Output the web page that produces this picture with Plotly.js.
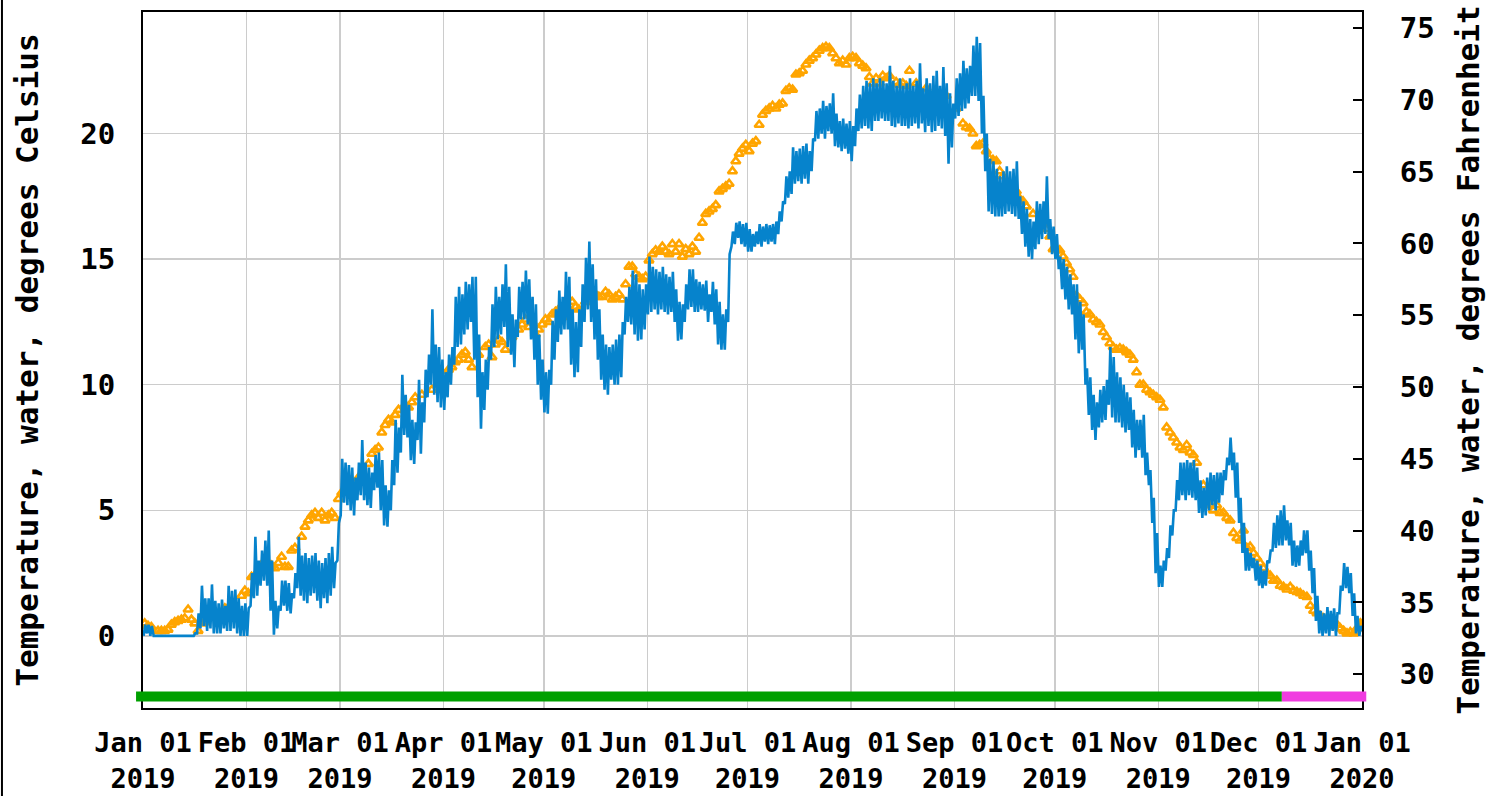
<!DOCTYPE html>
<html><head><meta charset="utf-8">
<script src="https://cdn.plot.ly/plotly-3.0.1.min.js"></script>
<style>html,body{margin:0;padding:0;background:#fff;overflow:hidden;} #chart{width:1491px;height:796px;}</style>
</head><body><div id="chart"></div>
<script>
// ---- data ----
const yearStart = '2019-01-01';
const yearEnd = '2020-01-01';

// water temperature, daily low / high (degrees Celsius), day offset from Jan 01 2019
const blueDay = [0,1,2,3,6,9,12,15,16,17,18,19,20,21,22,23,24,25,26,27,28,29,30,31,
 32,33,34,35,36,37,38,39,40,41,42,43,44,45,46,47,48,49,50,51,52,53,54,55,56,57,58,
 59,60,61,62,63,64,65,66,67,68,69,70,71,72,73,74,75,76,77,78,79,80,81,82,83,84,85,86,87,88,89,
 90,91,92,93,94,95,96,97,98,99,100,101,102,103,104,105,106,107,108,109,110,111,112,113,114,115,116,117,118,119,
 120,121,122,123,124,125,126,127,128,129,130,131,132,133,134,135,136,137,138,139,140,141,142,143,144,145,146,147,148,149,150,
 151,152,153,154,155,156,157,158,159,160,161,162,163,164,165,166,167,168,169,170,171,172,173,174,175,176,177,178,179,180,
 181,182,183,184,185,186,187,188,189,190,191,192,193,194,195,196,197,198,199,200,201,202,203,204,205,206,207,208,209,210,211,
 212,213,214,215,216,217,218,219,220,221,222,223,224,225,226,227,228,229,230,231,232,233,234,235,236,237,238,239,240,241,242,
 243,244,245,246,247,248,249,250,251,252,253,254,255,256,257,258,259,260,261,262,263,264,265,266,267,268,269,270,271,272,
 273,274,275,276,277,278,279,280,281,282,283,284,285,286,287,288,289,290,291,292,293,294,295,296,297,298,299,300,301,302,303,
 304,305,306,307,308,309,310,311,312,313,314,315,316,317,318,319,320,321,322,323,324,325,326,327,328,329,330,331,332,333,334,335,336,
 337,338,339,340,341,342,343,344,345,346,347,348,349,350,351,352,353,354,355,356,357,358,359,360,361,362,363,364,365];
const blueLow = [0.0,0.1,0.0,0,0,0,0,0,0.1,0.3,0.4,0.2,0.3,0.1,0.1,0.1,0.3,0.2,0.2,0.3,0.1,0.0,0.0,0.0,
 1.2,1.5,1.6,2.0,2.2,2.0,1.0,0.05,0.3,1.0,1.2,1.0,0.9,1.5,1.9,1.6,1.4,1.3,1.6,1.7,1.4,1.1,1.5,1.3,1.6,1.9,3.0,
 4.8,5.3,5.2,5.0,4.8,5.4,5.6,5.4,5.2,5.1,5.8,5.9,5.0,4.4,4.35,5.0,6.0,6.5,7.3,8.0,7.9,7.0,6.85,7.8,7.25,8.5,9.5,10.0,9.6,9.3,9.1,
 9.0,9.5,10.0,10.8,11.5,11.6,12.0,12.2,12.5,11.0,9.5,8.25,9.0,9.8,11.0,11.5,11.8,12.0,12.3,11.5,11.2,10.7,11.9,12.6,12.6,12.4,11.8,11.0,10.0,9.4,
 8.9,8.85,10.0,11.0,11.7,12.0,12.2,12.2,10.8,10.3,10.5,11.5,12.5,13.0,12.5,11.8,11.0,10.2,9.8,9.6,10.2,10.0,10.0,10.3,12.0,12.5,12.4,12.0,11.75,11.8,12.2,
 12.8,12.9,13.0,12.8,13.0,12.9,12.8,12.9,12.5,11.75,11.8,12.5,13.0,13.1,12.9,12.9,13.0,12.95,12.5,12.9,12.4,11.6,11.4,11.4,12.5,15.5,15.6,15.85,15.6,15.5,
 15.3,15.3,15.5,15.6,15.5,15.7,15.6,15.7,15.6,16.0,16.5,17.2,17.45,17.6,18.0,18.1,18.0,18.2,18.0,18.5,19.7,19.8,20.0,19.8,20.1,20.0,19.5,19.45,19.3,19.4,19.2,
 18.9,19.5,20.1,20.2,20.3,20.2,20.1,20.5,20.5,20.6,20.5,20.5,20.3,20.25,20.4,20.3,20.3,20.2,20.3,20.4,20.2,20.4,20.05,20.3,20.05,20.1,20.3,20.2,19.9,18.8,19.45,
 20.6,20.7,20.9,21.0,21.2,21.5,21.5,21.3,20.0,18.5,16.9,16.8,16.7,16.7,16.7,16.8,16.9,16.8,16.7,16.6,16.0,15.5,15.1,15.0,15.4,15.6,15.8,16.0,15.8,15.2,
 15.0,14.6,13.8,13.4,13.0,12.8,11.8,11.25,11.4,10.0,8.8,8.2,7.8,8.3,8.5,8.6,9.2,8.7,8.5,8.5,8.3,8.1,8.2,7.5,7.1,7.4,7.1,6.4,6.0,4.5,2.5,
 1.95,1.95,2.6,3.1,4.0,5.0,5.4,5.6,5.4,5.6,5.5,5.4,4.9,4.7,4.8,5.0,5.2,5.0,5.3,5.6,6.2,6.8,6.6,5.5,4.5,3.3,2.6,2.6,2.7,2.2,2.0,1.9,2.0,
 2.9,3.4,3.5,3.6,3.6,3.8,3.6,2.8,2.75,2.8,3.2,3.3,2.6,1.7,0.6,0.1,0.0,0.1,0.0,0.2,0.0,0.9,1.8,1.9,1.7,0.8,0.1,0.0,0.2];
const blueHigh = [0.45,0.45,0.4,0,0,0,0,0.1,0.9,2.0,1.5,1.5,2.05,1.4,1.3,1.45,1.2,2.0,1.8,1.85,1.5,1.2,1.3,1.1,
 2.5,3.95,3.0,3.4,3.8,4.2,3.0,1.4,1.2,2.2,2.2,2.1,1.7,2.5,3.95,3.2,3.3,3.1,3.2,3.3,3.0,2.9,3.1,3.3,3.55,2.9,4.5,
 7.05,6.9,6.8,6.7,6.3,6.9,7.8,6.9,6.7,6.5,7.2,7.3,7.0,6.0,5.8,7.0,8.6,8.3,10.4,9.6,9.2,8.6,8.5,10.2,9.3,10.6,11.2,13.0,11.6,11.5,11.0,
 10.5,11.2,11.5,13.5,13.9,13.6,14.1,14.0,14.3,14.3,12.0,10.5,11.0,11.5,13.2,13.9,13.5,14.0,14.8,13.9,12.8,12.6,13.9,14.1,14.55,14.2,13.5,13.2,12.0,11.0,
 10.5,10.6,12.55,13.0,13.75,13.5,14.5,14.3,13.0,12.5,13.0,14.0,15.05,15.7,14.8,14.2,13.0,12.0,11.6,11.5,11.6,11.8,12.0,12.5,13.5,13.9,14.55,14.4,14.0,13.8,14.0,
 15.1,14.7,14.6,14.5,14.7,14.4,14.3,14.5,13.8,13.3,13.2,14.0,14.6,14.6,14.2,14.1,14.0,14.15,13.6,14.1,13.8,13.3,12.8,13.0,15.2,16.1,16.45,16.5,16.4,16.45,
 16.2,16.0,16.1,16.4,16.3,16.4,16.35,16.4,16.5,16.9,17.3,18.3,18.5,19.45,19.3,19.4,19.5,19.6,19.3,19.8,20.9,21.0,21.3,21.1,21.2,21.6,20.8,20.5,20.6,20.4,20.5,
 20.3,21.0,21.55,21.9,22.1,22.0,22.2,22.0,22.2,22.1,22.0,22.7,22.1,21.9,22.2,21.9,22.0,22.2,21.9,22.1,22.8,21.8,22.2,22.0,22.3,22.5,21.9,22.65,22.0,21.6,21.2,
 22.2,22.4,22.9,22.6,22.7,23.5,23.85,23.6,21.5,20.0,19.0,18.9,18.6,18.3,18.5,18.7,18.5,18.6,18.9,17.5,17.3,17.0,16.6,16.5,17.3,17.2,17.3,18.3,16.6,16.3,
 16.0,15.1,15.0,14.7,14.4,14.0,14.0,13.3,12.8,10.65,10.3,9.6,9.3,9.8,9.95,10.2,11.5,11.1,10.5,10.3,10.0,9.7,9.5,9.0,8.6,8.6,8.8,7.3,6.6,5.5,4.1,
 2.8,3.0,3.5,4.4,5.0,6.2,6.9,6.9,7.0,6.9,7.0,6.7,6.2,5.9,6.3,6.5,6.4,6.5,6.5,6.6,7.1,7.9,7.3,6.9,5.5,4.5,3.5,3.3,3.1,3.0,2.8,2.6,3.0,
 3.4,4.5,4.8,5.0,5.2,4.6,4.5,3.8,3.6,3.8,4.2,4.2,3.4,2.7,1.6,1.0,0.9,1.15,1.0,1.1,0.9,2.0,2.9,2.75,2.5,1.7,0.8,0.4,0.4];

// median daily statistic (degrees Celsius), day offset from Jan 01 2019
const medianDay = [0,1,2,4,5,6,7,8,9,10,11,12,13,14,15,16,17,18,20,21,24,26,29,30,31,32,33,35,36,37,38,39,40,41,42,43,44,45,
 47,48,49,50,51,52,53,54,55,56,57,58,59,61,63,64,65,67,68,69,70,71,72,73,74,75,76,78,79,80,81,83,86,88,
 90,91,92,93,94,95,96,97,98,100,102,103,104,105,106,107,108,110,112,113,114,115,116,117,118,119,
 120,121,122,123,124,125,127,128,129,130,132,133,134,135,136,137,138,139,140,141,142,143,144,145,146,147,148,149,150,
 151,152,153,154,155,156,157,158,159,160,161,162,163,164,165,166,167,168,169,170,171,172,173,174,175,176,177,178,179,180,
 181,182,183,184,185,186,187,188,189,190,191,192,193,194,195,196,197,198,199,200,201,202,203,204,205,206,207,208,209,210,211,
 212,213,214,215,216,217,218,219,220,221,222,223,225,226,227,228,229,231,234,237,240,243,245,246,247,248,249,250,251,252,253,254,255,256,257,259,261,262,263,264,266,268,270,271,272,
 273,274,275,276,277,278,279,280,281,282,283,284,285,286,287,288,289,290,291,292,293,294,295,296,297,298,299,300,301,302,303,
 304,305,306,307,308,309,310,311,312,313,314,315,317,318,319,320,321,322,323,324,325,326,327,328,329,330,331,332,333,334,335,336,
 337,338,339,340,341,342,343,344,345,346,347,348,349,350,351,352,353,354,355,356,357,358,359,360,361,362,363,364,365];
const medianValue = [0.5,0.4,0.35,0.2,0.2,0.2,0.25,0.45,0.55,0.6,0.65,0.7,1.05,0.65,0.5,0.2,0.5,0.55,0.8,0.75,1.1,1.3,1.6,1.8,1.7,2.35,2.4,2.6,3.0,2.9,2.8,2.7,2.9,3.15,2.75,2.75,3.4,3.5,
 3.95,4.35,4.6,4.8,4.9,4.7,4.9,4.6,4.8,4.9,4.7,5.45,5.7,5.9,6.1,6.3,6.2,6.85,7.25,7.4,7.5,8.1,8.4,8.6,8.5,8.8,9.0,9.2,9.1,9.3,9.5,9.6,9.8,10.0,
 10.4,10.6,10.7,10.9,11.0,11.2,11.3,11.0,10.7,11.2,11.5,11.6,11.1,11.6,11.8,11.7,11.4,11.9,12.2,12.4,12.6,12.3,12.5,12.0,12.2,12.4,
 12.6,12.5,12.8,12.9,13.0,12.7,13.0,13.3,13.1,13.0,13.3,13.6,13.5,13.6,13.5,13.5,13.7,13.6,13.4,13.5,13.6,13.4,14.0,14.7,14.7,14.4,14.3,14.2,14.3,
 14.95,15.2,15.35,15.3,15.5,15.3,15.2,15.6,15.3,15.6,15.1,15.4,15.2,15.5,15.3,15.85,16.45,16.8,16.9,17.0,17.15,17.7,17.8,17.9,18.0,18.5,18.9,19.2,19.4,19.55,
 19.3,19.6,19.7,20.35,20.75,20.9,21.0,21.1,21.0,21.15,21.2,21.7,21.8,21.75,22.35,22.4,22.5,22.75,22.9,23.0,23.15,23.3,23.4,23.45,23.4,23.2,23.0,22.8,22.9,22.75,23.0,
 23.05,23.0,22.8,22.7,22.6,22.25,22.0,22.2,22.0,22.3,22.2,22.3,22.05,21.95,22.0,21.9,22.5,22.0,21.8,21.6,21.5,21.0,20.4,20.25,20.2,20.0,19.5,19.55,19.6,19.3,19.0,18.95,18.9,18.5,18.3,18.0,17.7,17.4,17.3,17.1,16.8,16.5,16.2,15.9,15.4,
 15.4,15.35,15.1,14.85,14.6,14.3,13.55,13.4,13.25,12.9,12.8,12.6,12.5,12.4,12.1,11.9,11.65,11.5,11.4,11.45,11.4,11.3,11.2,11.0,10.5,10.0,10.0,9.8,9.7,9.6,9.5,
 9.4,9.1,8.3,8.1,7.9,7.7,7.5,7.4,7.6,7.3,7.2,6.9,6.0,5.3,5.2,5.0,5.2,4.9,4.9,4.7,4.6,4.1,3.9,3.8,4.2,3.5,3.55,3.3,3.1,2.9,2.7,2.5,
 2.4,2.2,2.2,2.0,1.95,1.85,1.95,1.8,1.75,1.7,1.6,1.55,1.2,1.0,0.9,0.8,0.7,0.6,0.5,0.4,0.45,0.3,0.2,0.1,0.15,0.1,0.3,0.5,0.55];

// axis ticks
const monthTickDates = ['2019-01-01','2019-02-01','2019-03-01','2019-04-01','2019-05-01','2019-06-01','2019-07-01',
 '2019-08-01','2019-09-01','2019-10-01','2019-11-01','2019-12-01','2020-01-01'];
const monthTickLabels = ['Jan 01','Feb 01','Mar 01','Apr 01','May 01','Jun 01','Jul 01','Aug 01','Sep 01','Oct 01','Nov 01','Dec 01','Jan 01'];
const yearTickLabels = ['2019','2019','2019','2019','2019','2019','2019','2019','2019','2019','2019','2019','2020'];
const celsiusTicks = [0,5,10,15,20];
const fahrenheitTicks = [30,35,40,45,50,55,60,65,70,75];

// data approval periods (bar under the plot)
const approvalStart = ['2019-01-01','2019-12-08'];
const approvalEnd = ['2019-12-08','2020-01-01'];
const approvalColor = ['#00a000','#f03ce0'];

// ---- build ----
const t0 = Date.UTC(2019,0,1);
const DAY = 86400000;
function dayToDate(d){ return new Date(t0 + d*DAY).toISOString().slice(0,19).replace('T',' '); }

const bx = [], by = [];
for (let i = 0; i < blueDay.length; i++) {
  bx.push(dayToDate(blueDay[i] + 0.2)); by.push(blueLow[i]);
  bx.push(dayToDate(blueDay[i] + 0.65)); by.push(blueHigh[i]);
}
const mx = medianDay.map(d => dayToDate(d + 0.5));

const FONT = {family: 'DejaVu Sans Mono', size: 29, color: '#000', weight: 'bold'};
const XFONT = {family: 'DejaVu Sans Mono', size: 27, color: '#000', weight: 'bold'};
const TFONT = {family: 'DejaVu Sans Mono', size: 31, color: '#000', weight: 'bold'};

const medianTrace = {
  type: 'scatter', mode: 'markers', x: mx, y: medianValue, yaxis: 'y', showlegend: false,
  marker: {symbol: 'triangle-up-open', size: 8, color: '#ffa500', line: {width: 2.6, color: '#ffa500'}},
  hoverinfo: 'skip'
};
const blueTrace = {
  type: 'scatter', mode: 'lines', x: bx, y: by, yaxis: 'y', showlegend: false,
  line: {color: '#0683cc', width: 2.6}, hoverinfo: 'skip'
};
// invisible trace to activate right axis
const fTrace = {type:'scatter', mode:'none', x:[yearStart], y:[50], yaxis:'y2', showlegend:false, hoverinfo:'skip'};

const tStart = Date.parse(yearStart + 'T00:00:00Z'), tEnd = Date.parse(yearEnd + 'T00:00:00Z');
const shapes = [];
for (let i = 0; i < approvalStart.length; i++) {
  let a = (Date.parse(approvalStart[i] + 'T00:00:00Z') - tStart) / (tEnd - tStart);
  let b = (Date.parse(approvalEnd[i] + 'T00:00:00Z') - tStart) / (tEnd - tStart);
  if (i === 0) a -= 0.0057;
  if (i === approvalStart.length - 1) b += 0.0035;
  shapes.push({type:'line', xref:'paper', yref:'paper', x0:a, x1:b, y0:0.0165, y1:0.0165,
    line:{color: approvalColor[i], width: 10}, layer:'above'});
}
// outer left frame line
shapes.push({type:'line', xref:'paper', yref:'paper', x0:-0.1157, x1:-0.1157, y0:-0.13, y1:1.02,
  line:{color:'#000', width:2}, layer:'above'});

const layout = {
  width: 1491, height: 796,
  margin: {l: 143, r: 129, t: 12, b: 88, pad: 0},
  paper_bgcolor: '#fff', plot_bgcolor: '#fff',
  font: FONT,
  showlegend: false,
  hovermode: false,
  xaxis: {
    type: 'date', range: [yearStart, yearEnd],
    tickmode: 'array', tickvals: monthTickDates,
    ticktext: monthTickLabels.map((m, i) => m + '<br>' + yearTickLabels[i]),
    tickangle: 0, ticks: '', ticklabelstandoff: 10,
    showgrid: true, gridcolor: '#cccccc', gridwidth: 1.5,
    showline: true, linecolor: '#000', linewidth: 2, mirror: true,
    zeroline: false, tickfont: XFONT, fixedrange: true
  },
  yaxis: {
    range: [-2.87, 24.84], tickmode: 'array', tickvals: celsiusTicks,
    ticks: '', ticklabelstandoff: 20,
    showgrid: true, gridcolor: '#cccccc', gridwidth: 1.5, zeroline: false,
    showline: true, linecolor: '#000', linewidth: 2, mirror: true,
    tickfont: FONT,
    title: {text: 'Temperature, water, degrees Celsius', font: TFONT, standoff: 32},
    fixedrange: true
  },
  yaxis2: {
    overlaying: 'y', side: 'right', range: [27.65, 76.11],
    tickmode: 'array', tickvals: fahrenheitTicks,
    ticks: 'inside', ticklen: 9, tickwidth: 2, tickcolor: '#000', ticklabelstandoff: 30,
    showgrid: false, zeroline: false,
    showline: true, linecolor: '#000', linewidth: 2,
    tickfont: FONT,
    title: {text: 'Temperature, water, degrees Fahrenheit', font: TFONT, standoff: 24},
    fixedrange: true
  },
  shapes: shapes
};

Plotly.newPlot('chart', [medianTrace, blueTrace, fTrace], layout, {displayModeBar: false, staticPlot: true});
</script></body></html>
